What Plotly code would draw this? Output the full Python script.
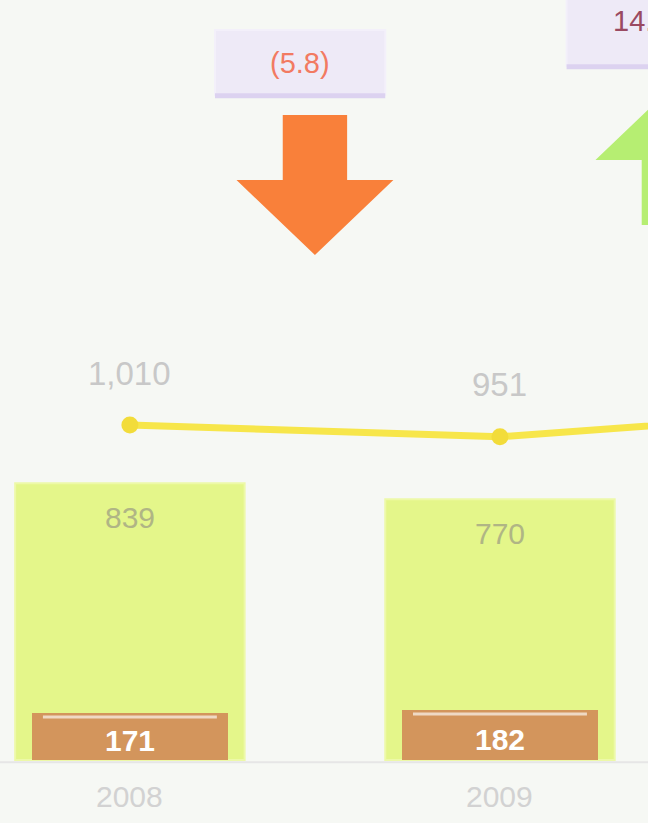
import plotly.graph_objects as go

# ---- data ----
years = ["2008", "2009", "2010"]
lower_vals = [171, 182]          # brown segment
upper_vals = [839, 770]          # green segment
totals = [1010, 951, 1086]       # line (total)
changes = ["(5.8)", "14.2"]      # % change labels between years
change_dirs = ["down", "up"]

W, H = 648, 823
FONT = "Liberation Sans, Arial, sans-serif"

xs = list(range(len(years)))
bar_x = xs[:len(upper_vals)]
bar_tot = [a + b for a, b in zip(lower_vals, upper_vals)]

fig = go.Figure()

# wide green bar (full stack height)
fig.add_trace(go.Bar(
    x=bar_x, y=bar_tot, width=0.62,
    marker=dict(color="#E4F68A", line=dict(color="#EDF9A8", width=2)),
    hoverinfo="skip", showlegend=False,
))
# narrower brown bar at the bottom
fig.add_trace(go.Bar(
    x=bar_x, y=lower_vals, width=0.53,
    marker=dict(color="#D3955C", line=dict(width=0)),
    hoverinfo="skip", showlegend=False,
))
# total line on secondary axis
fig.add_trace(go.Scatter(
    x=xs, y=totals, yaxis="y2", mode="lines+markers",
    line=dict(color="#F7E64A", width=7),
    marker=dict(color="#F2DC3A", size=17),
    hoverinfo="skip", showlegend=False, cliponaxis=True,
))

annotations = []
shapes = []
for i, t in enumerate(totals):
    annotations.append(dict(x=xs[i], y=t, xref="x", yref="y2", yshift=52,
                            text=f"{t:,}", showarrow=False,
                            font=dict(family=FONT, size=33, color="#C8C8C8")))
for i, (lo, up) in enumerate(zip(lower_vals, upper_vals)):
    annotations.append(dict(x=bar_x[i], y=lo + up, xref="x", yref="y", yshift=-34,
                            text=str(up), showarrow=False,
                            font=dict(family=FONT, size=30, color="#B0B585")))
    annotations.append(dict(x=bar_x[i], y=lo / 2, xref="x", yref="y", yshift=-4,
                            text=f"<b>{lo}</b>", showarrow=False,
                            font=dict(family=FONT, size=30, color="#FFFFFF")))
    # highlight line near the top of the brown bar
    shapes.append(dict(type="line", xref="x", yref="y",
                       x0=bar_x[i] - 0.235, x1=bar_x[i] + 0.235,
                       y0=lo - 14, y1=lo - 14,
                       line=dict(color="#EFD9C4", width=3), layer="above"))
for i, yr in enumerate(years[:2]):
    annotations.append(dict(x=xs[i], y=-135, xref="x", yref="y",
                            text=yr, showarrow=False,
                            font=dict(family=FONT, size=30, color="#D2D2D2")))

def py(p):
    return 1 - p / H

# change labels + arrows
mids = [0.5, 1.47]
for k, (lab, d) in enumerate(zip(changes, change_dirs)):
    cx = mids[k]
    sw, hw = 0.087, 0.212
    if d == "down":
        top, base, tip = py(115), py(180), py(255)
        col = "#F9803A"
        path = (f"M {cx-sw},{top} L {cx+sw},{top} L {cx+sw},{base} L {cx+hw},{base} "
                f"L {cx},{tip} L {cx-hw},{base} L {cx-sw},{base} Z")
        bx0, bx1, by0, by1 = cx - 0.27, cx + 0.19, py(95), py(30)
        tcol = "#F27A62"
        tx, anchor = cx - 0.04, "center"
    else:
        tip, base, bot = py(85), py(160), py(225)
        col = "#B6EE72"
        path = (f"M {cx-sw},{bot} L {cx+sw},{bot} L {cx+sw},{base} L {cx+hw},{base} "
                f"L {cx},{tip} L {cx-hw},{base} L {cx-sw},{base} Z")
        bx0, bx1, by0, by1 = cx - 0.29, cx + 0.3, py(66), py(-5)
        tcol = "#9A4A62"
        tx, anchor = cx - 0.17, "left"
    shapes.append(dict(type="path", path=path, xref="x", yref="paper",
                       fillcolor=col, line=dict(width=0), layer="above"))
    shapes.append(dict(type="rect", xref="x", yref="paper", x0=bx0, x1=bx1,
                       y0=by0, y1=by1, fillcolor="#EEEAF7",
                       line=dict(color="#F3F0FA", width=2), layer="below"))
    shapes.append(dict(type="rect", xref="x", yref="paper", x0=bx0, x1=bx1,
                       y0=by0 - 0.004, y1=by0 + 0.002, fillcolor="#DCD2F0",
                       line=dict(width=0), layer="below"))
    annotations.append(dict(x=tx, y=(by0 + by1) / 2 + (0.012 if d == "up" else 0),
                            xref="x", yref="paper",
                            text=lab, showarrow=False, xanchor=anchor, yanchor="middle",
                            font=dict(family=FONT, size=29, color=tcol)))

# baseline
shapes.append(dict(type="line", xref="paper", yref="y", x0=0, x1=1, y0=-8, y1=-8,
                   line=dict(color="#E6E6E6", width=2), layer="below"))

fig.update_layout(
    width=W, height=H,
    margin=dict(l=0, r=0, t=0, b=0),
    paper_bgcolor="#F6F8F4", plot_bgcolor="#F6F8F4",
    barmode="overlay", bargap=0,
    xaxis=dict(range=[-0.351, 1.40], visible=False, fixedrange=True),
    yaxis=dict(range=[-230, 2774], visible=False, fixedrange=True),
    yaxis2=dict(range=[-980, 3135], overlaying="y", visible=False, fixedrange=True),
    annotations=annotations, shapes=shapes,
    showlegend=False,
)

fig.write_html("out.html",
               config={"displayModeBar": False, "staticPlot": True},
               post_script="document.body.style.margin='0';document.body.style.overflow='hidden';")
